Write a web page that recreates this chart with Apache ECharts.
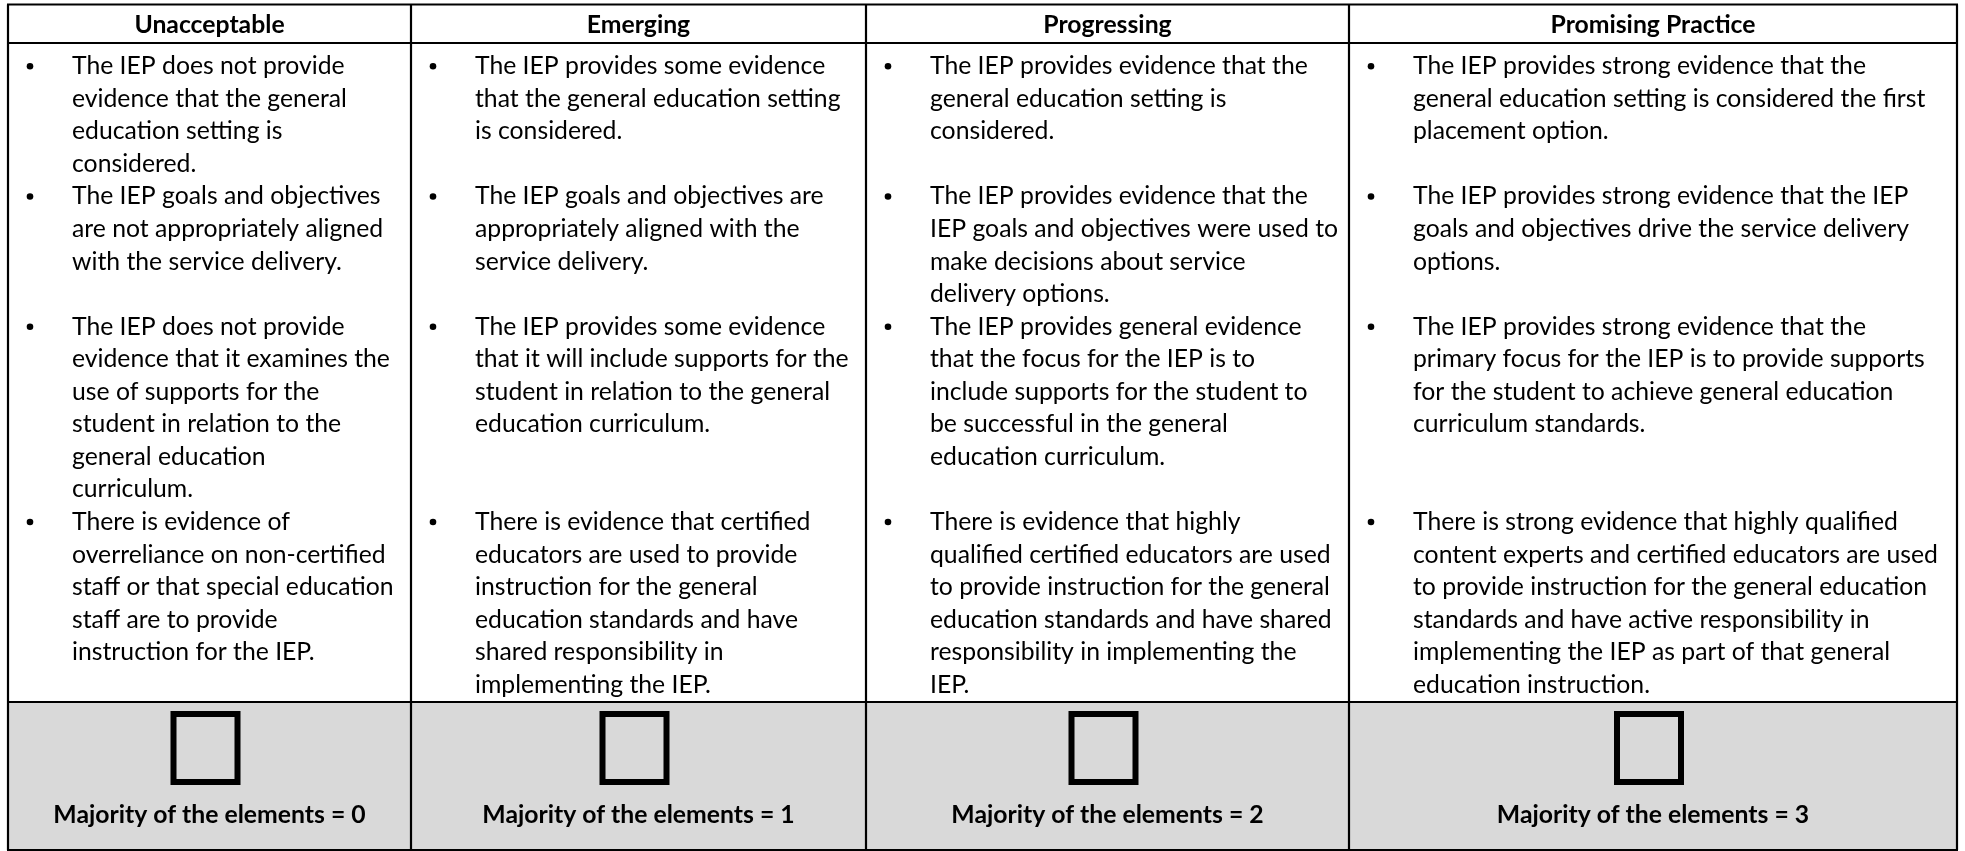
<!DOCTYPE html>
<html><head><meta charset="utf-8">
<script src="https://cdn.jsdelivr.net/npm/echarts@6/dist/echarts.min.js"></script>
<style>html,body{margin:0;padding:0;background:#fff}#c{width:1965px;height:851px}</style>
</head><body><div id="c"></div>
<script>
// ---- data ----
const levels = ["Unacceptable", "Emerging", "Progressing", "Promising Practice"];
const scores = [0, 1, 2, 3];
const footerPrefix = "Majority of the elements = ";

const unacceptableItems = [
  ["The IEP does not provide", "evidence that the general", "education setting is", "considered."],
  ["The IEP goals and objectives", "are not appropriately aligned", "with the service delivery."],
  ["The IEP does not provide", "evidence that it examines the", "use of supports for the", "student in relation to the", "general education", "curriculum."],
  ["There is evidence of", "overreliance on non-certified", "staff or that special education", "staff are to provide", "instruction for the IEP."]
];
const emergingItems = [
  ["The IEP provides some evidence", "that the general education setting", "is considered."],
  ["The IEP goals and objectives are", "appropriately aligned with the", "service delivery."],
  ["The IEP provides some evidence", "that it will include supports for the", "student in relation to the general", "education curriculum."],
  ["There is evidence that certified", "educators are used to provide", "instruction for the general", "education standards and have", "shared responsibility in", "implementing the IEP."]
];
const progressingItems = [
  ["The IEP provides evidence that the", "general education setting is", "considered."],
  ["The IEP provides evidence that the", "IEP goals and objectives were used to", "make decisions about service", "delivery options."],
  ["The IEP provides general evidence", "that the focus for the IEP is to", "include supports for the student to", "be successful in the general", "education curriculum."],
  ["There is evidence that highly", "qualified certified educators are used", "to provide instruction for the general", "education standards and have shared", "responsibility in implementing the", "IEP."]
];
const promisingItems = [
  ["The IEP provides strong evidence that the", "general education setting is considered the first", "placement option."],
  ["The IEP provides strong evidence that the IEP", "goals and objectives drive the service delivery", "options."],
  ["The IEP provides strong evidence that the", "primary focus for the IEP is to provide supports", "for the student to achieve general education", "curriculum standards."],
  ["There is strong evidence that highly qualified", "content experts and certified educators are used", "to provide instruction for the general education", "standards and have active responsibility in", "implementing the IEP as part of that general", "education instruction."]
];
const columns = [unacceptableItems, emergingItems, progressingItems, promisingItems];

// ---- layout ----
const L = {
  colEdges: [8, 411, 866, 1349, 1957],
  top: 4.5, headBottom: 43, footTop: 702, bottom: 850,
  line0: 66.3, lineH: 32.55,
  bulletDx: 22, textDx: 64,
  boxW: 64, boxH: 68, boxTop: 714, boxDx: -4, footTextY: 815
};
const FONT = "Lato, 'Noto Sans', sans-serif";
const ctx = document.createElement('canvas').getContext('2d');
ctx.font = "100px Lato";
const bodySize = 100 * 318 / ctx.measureText("evidence that it examines the").width;
const boldSize = bodySize;

const nRows = columns[0].length;
const rowStart = [];
let acc = 0;
for (let r = 0; r < nRows; r++) {
  rowStart.push(acc);
  acc += Math.max(...columns.map(c => c[r].length));
}

const cellData = [];
levels.forEach((lv, c) => cellData.push({ value: [c, 0], kind: 'head', text: lv }));
columns.forEach((col, c) => col.forEach((lines, r) => cellData.push({ value: [c, r], kind: 'item', lines: lines, start: rowStart[r] })));
scores.forEach((s, c) => cellData.push({ value: [c, 0], kind: 'foot', text: footerPrefix + s }));

function renderCell(params, api) {
  const d = cellData[params.dataIndex];
  const c = api.value(0);
  const x0 = L.colEdges[c], x1 = L.colEdges[c + 1], cx = (x0 + x1) / 2;
  const children = [];
  if (d.kind === 'head') {
    children.push({ type: 'text', style: { text: d.text, x: cx, y: (L.top + L.headBottom) / 2 + 1, font: `bold ${boldSize}px ${FONT}`, fill: '#000', align: 'center', verticalAlign: 'middle', textAlign: 'center', textVerticalAlign: 'middle' } });
  } else if (d.kind === 'item') {
    d.lines.forEach((t, i) => {
      const y = L.line0 + (d.start + i) * L.lineH;
      if (i === 0) children.push({ type: 'circle', shape: { cx: x0 + L.bulletDx, cy: y, r: 3.3 }, style: { fill: '#000' } });
      children.push({ type: 'text', style: { text: t, x: x0 + L.textDx, y: y, font: `${bodySize}px ${FONT}`, fill: '#000', align: 'left', verticalAlign: 'middle', textAlign: 'left', textVerticalAlign: 'middle' } });
    });
  } else {
    children.push({ type: 'rect', shape: { x: cx + L.boxDx - L.boxW / 2, y: L.boxTop, width: L.boxW, height: L.boxH }, style: { fill: 'none', stroke: '#000', lineWidth: 6 } });
    children.push({ type: 'text', style: { text: d.text, x: cx, y: L.footTextY, font: `bold ${boldSize}px ${FONT}`, fill: '#000', align: 'center', verticalAlign: 'middle', textAlign: 'center', textVerticalAlign: 'middle' } });
  }
  return { type: 'group', children: children };
}

function renderFrame(params, api) {
  const e = L.colEdges, lw = 2.2;
  const ch = [];
  ch.push({ type: 'rect', shape: { x: e[0], y: L.footTop, width: e[e.length - 1] - e[0], height: L.bottom - L.footTop }, style: { fill: '#d9d9d9' } });
  [L.top, L.headBottom, L.footTop, L.bottom].forEach(y => ch.push({ type: 'line', shape: { x1: e[0] - 1, y1: y, x2: e[e.length - 1] + 1, y2: y }, style: { stroke: '#000', lineWidth: lw } }));
  e.forEach(x => ch.push({ type: 'line', shape: { x1: x, y1: L.top, x2: x, y2: L.bottom }, style: { stroke: '#000', lineWidth: lw } }));
  return { type: 'group', children: ch };
}

const chart = echarts.init(document.getElementById('c'), null, { renderer: 'canvas' });
chart.setOption({
  backgroundColor: '#ffffff',
  animation: false,
  series: [
    { type: 'custom', coordinateSystem: 'none', data: [[0, 0]], renderItem: renderFrame, silent: true, z: 1 },
    { type: 'custom', coordinateSystem: 'none', data: cellData, renderItem: renderCell, silent: true, z: 2 }
  ]
});
</script></body></html>
